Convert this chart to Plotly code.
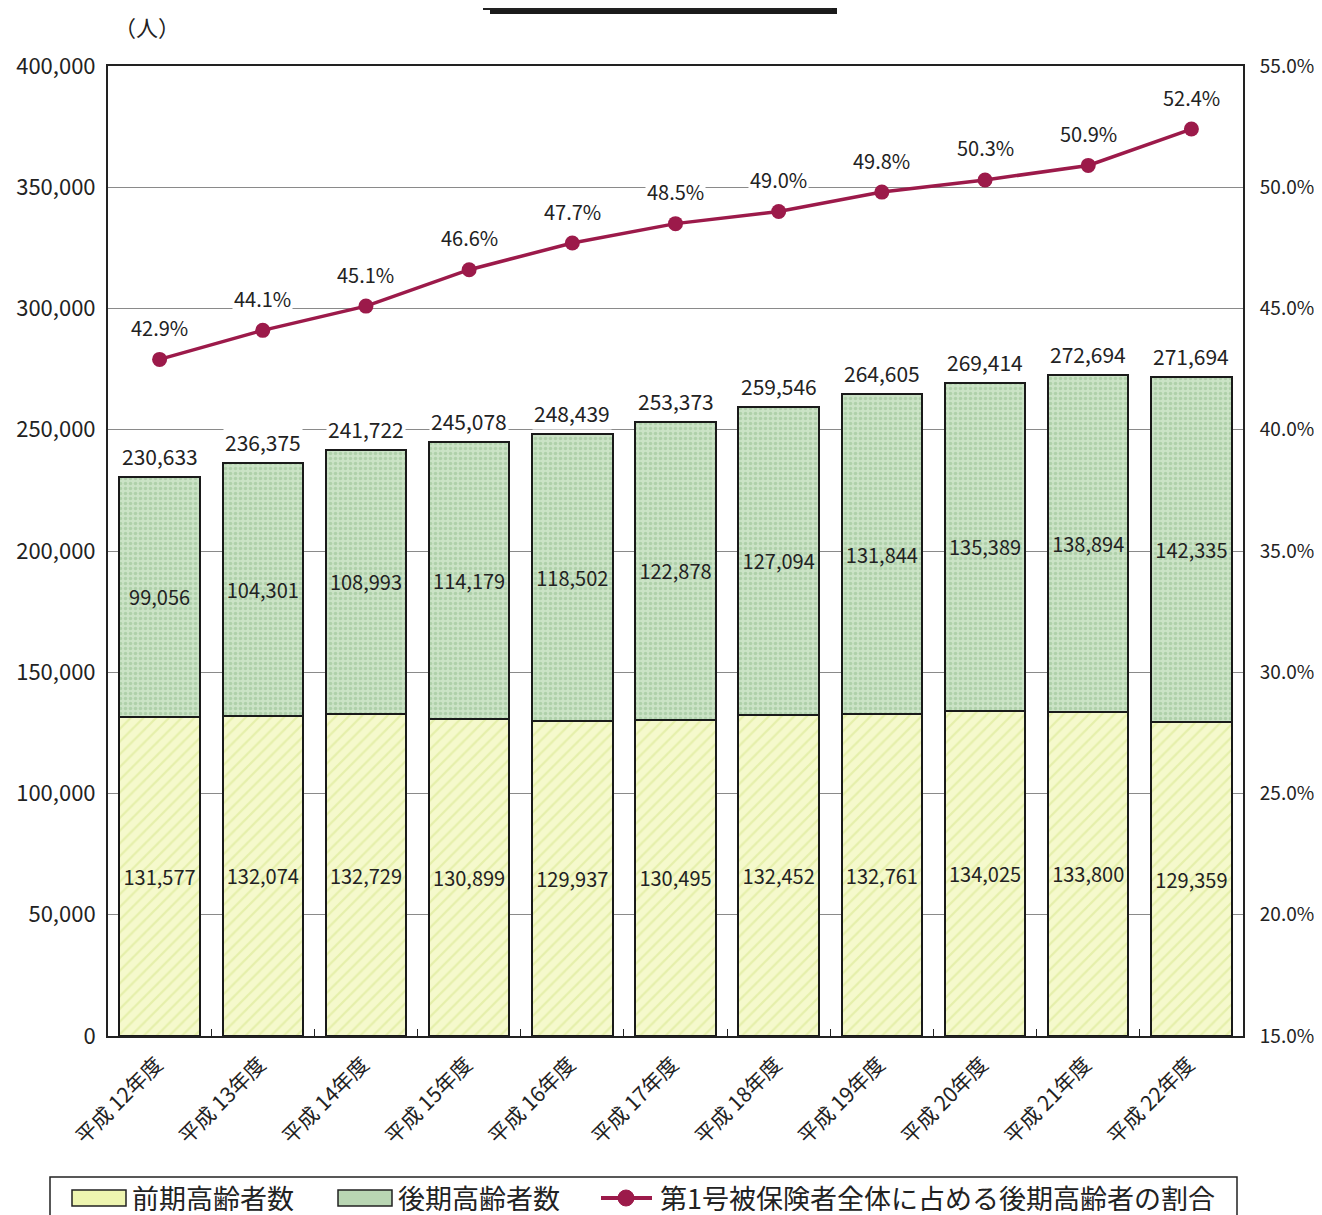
import plotly.graph_objects as go

categories = ["平成 12年度", "平成 13年度", "平成 14年度", "平成 15年度", "平成 16年度",
              "平成 17年度", "平成 18年度", "平成 19年度", "平成 20年度", "平成 21年度", "平成 22年度"]
early_elderly = [131577, 132074, 132729, 130899, 129937, 130495, 132452, 132761, 134025, 133800, 129359]
late_elderly = [99056, 104301, 108993, 114179, 118502, 122878, 127094, 131844, 135389, 138894, 142335]
totals = [230633, 236375, 241722, 245078, 248439, 253373, 259546, 264605, 269414, 272694, 271694]
late_ratio = [42.9, 44.1, 45.1, 46.6, 47.7, 48.5, 49.0, 49.8, 50.3, 50.9, 52.4]

left_ticks = [0, 50000, 100000, 150000, 200000, 250000, 300000, 350000, 400000]
right_ticks = [15, 20, 25, 30, 35, 40, 45, 50, 55]
legend_names = ["前期高齢者数", "後期高齢者数", "第1号被保険者全体に占める後期高齢者の割合"]

FONT = "Noto Sans CJK JP"
LINE_COLOR = "#9c1a4a"
EARLY_BG = "#f3f8c4"
LATE_BG = "#c7e0c1"

fig = go.Figure()
fig.add_trace(go.Bar(
    x=categories, y=early_elderly, name=legend_names[0], showlegend=False,
    marker=dict(color=EARLY_BG, line=dict(color="#1a1a1a", width=2),
                pattern=dict(shape="/", fgcolor="#d5e68a", bgcolor="#f5f9cc", size=9, solidity=0.25)),
    text=[f"{v:,}" for v in early_elderly], textposition="inside", insidetextanchor="middle",
    textfont=dict(size=20, color="#222", family=FONT), textangle=0,
))
fig.add_trace(go.Bar(
    x=categories, y=late_elderly, name=legend_names[1], showlegend=False,
    marker=dict(color=LATE_BG, line=dict(color="#1a1a1a", width=2),
                pattern=dict(shape=".", fgcolor="#93bd8e", bgcolor="#cbe3c6", size=5, solidity=0.4)),
    text=[f"{v:,}" for v in late_elderly], textposition="inside", insidetextanchor="middle",
    textfont=dict(size=20, color="#222", family=FONT), textangle=0,
))
fig.add_trace(go.Scatter(
    x=categories, y=late_ratio, name=legend_names[2], showlegend=False,
    yaxis="y2", mode="lines+markers",
    line=dict(color=LINE_COLOR, width=3.5),
    marker=dict(color=LINE_COLOR, size=15),
))

annotations = []
for c, t in zip(categories, totals):
    annotations.append(dict(x=c, y=t, xref="x", yref="y", text=f"{t:,}", showarrow=False,
                            yshift=21, bgcolor="white", borderpad=1,
                            font=dict(size=21, color="#222", family=FONT)))
for c, r in zip(categories, late_ratio):
    annotations.append(dict(x=c, y=r, xref="x", yref="y2", text=f"{r:.1f}%", showarrow=False,
                            yshift=32, bgcolor="white", borderpad=1,
                            font=dict(size=20, color="#222", family=FONT)))

# Page layout: the figure sits 8px from the page corner; plot area spans page x 108..1243, y 66..1036
def px_x(p):
    return (p - 108) / 1135.0

def px_y(p):
    return (1036 - p) / 970.0

annotations.append(dict(x=px_x(112), y=px_y(26), xref="paper", yref="paper", text="（人）", showarrow=False,
                        xanchor="left", yanchor="middle", font=dict(size=22, color="#222", family=FONT)))

leg_y = px_y(1197)
shapes = [
    # clipped title box with shadow
    dict(type="rect", xref="paper", yref="paper", x0=px_x(490), x1=px_x(837), y0=px_y(14), y1=px_y(-10),
         fillcolor="#1a1a1a", line=dict(width=0), layer="above"),
    dict(type="rect", xref="paper", yref="paper", x0=px_x(484), x1=px_x(831), y0=px_y(9), y1=px_y(-12),
         fillcolor="white", line=dict(color="#222", width=2), layer="above"),
    # legend frame
    dict(type="rect", xref="paper", yref="paper", x0=px_x(50), x1=px_x(1237), y0=px_y(1225), y1=px_y(1177),
         fillcolor="white", line=dict(color="#222", width=1.5), layer="above"),
    dict(type="rect", xref="paper", yref="paper", x0=px_x(72), x1=px_x(126), y0=px_y(1206), y1=px_y(1190),
         fillcolor="#eef5b0", line=dict(color="#222", width=1.5), layer="above"),
    dict(type="rect", xref="paper", yref="paper", x0=px_x(338), x1=px_x(392), y0=px_y(1206), y1=px_y(1190),
         fillcolor="#b9d6b3", line=dict(color="#222", width=1.5), layer="above"),
    dict(type="line", xref="paper", yref="paper", x0=px_x(601), x1=px_x(652), y0=px_y(1198), y1=px_y(1198),
         line=dict(color=LINE_COLOR, width=4), layer="above"),
    dict(type="circle", xref="paper", yref="paper", x0=px_x(618), x1=px_x(634), y0=px_y(1206), y1=px_y(1190),
         fillcolor=LINE_COLOR, line=dict(color=LINE_COLOR, width=1), layer="above"),
]
for name, x0 in zip(legend_names, [131, 397, 659]):
    annotations.append(dict(x=px_x(x0), y=leg_y, xref="paper", yref="paper", text=name, showarrow=False,
                            xanchor="left", yanchor="middle", height=28, valign="middle", borderpad=0,
                            font=dict(size=27, color="#222", family=FONT)))

fig.update_layout(
    width=1314, height=1207,
    margin=dict(l=100, r=79, t=58, b=179, autoexpand=False),
    paper_bgcolor="white", plot_bgcolor="white",
    barmode="stack", bargap=0.22,
    font=dict(family=FONT, color="#222"),
    showlegend=False,
    xaxis=dict(range=[-0.5, len(categories) - 0.5], tickangle=-45, tickfont=dict(size=21, family=FONT),
               showline=True, linecolor="#222", linewidth=2, mirror=True, ticks="inside", ticklen=7,
               tickcolor="#222", tickson="boundaries", showgrid=False, automargin=False,
               ticklabelshift=-3, ticklabelstandoff=6),
    yaxis=dict(range=[0, 400000], tickvals=left_ticks, ticktext=[f"{v:,}" for v in left_ticks],
               tickfont=dict(size=22, family=FONT), showline=True, linecolor="#222", linewidth=2,
               mirror=True, ticks="", showgrid=True, gridcolor="#8a8a8a", gridwidth=1, zeroline=False,
               automargin=False, ticklabelstandoff=6),
    yaxis2=dict(range=[15, 55], tickvals=right_ticks, ticktext=[f"{v:.1f}%" for v in right_ticks],
                overlaying="y", side="right", tickfont=dict(size=19, family=FONT), showgrid=False,
                showline=True, linecolor="#222", linewidth=2, zeroline=False, automargin=False,
                ticklabelstandoff=11),
    annotations=annotations,
    shapes=shapes,
)

fig.write_html("out.html")
